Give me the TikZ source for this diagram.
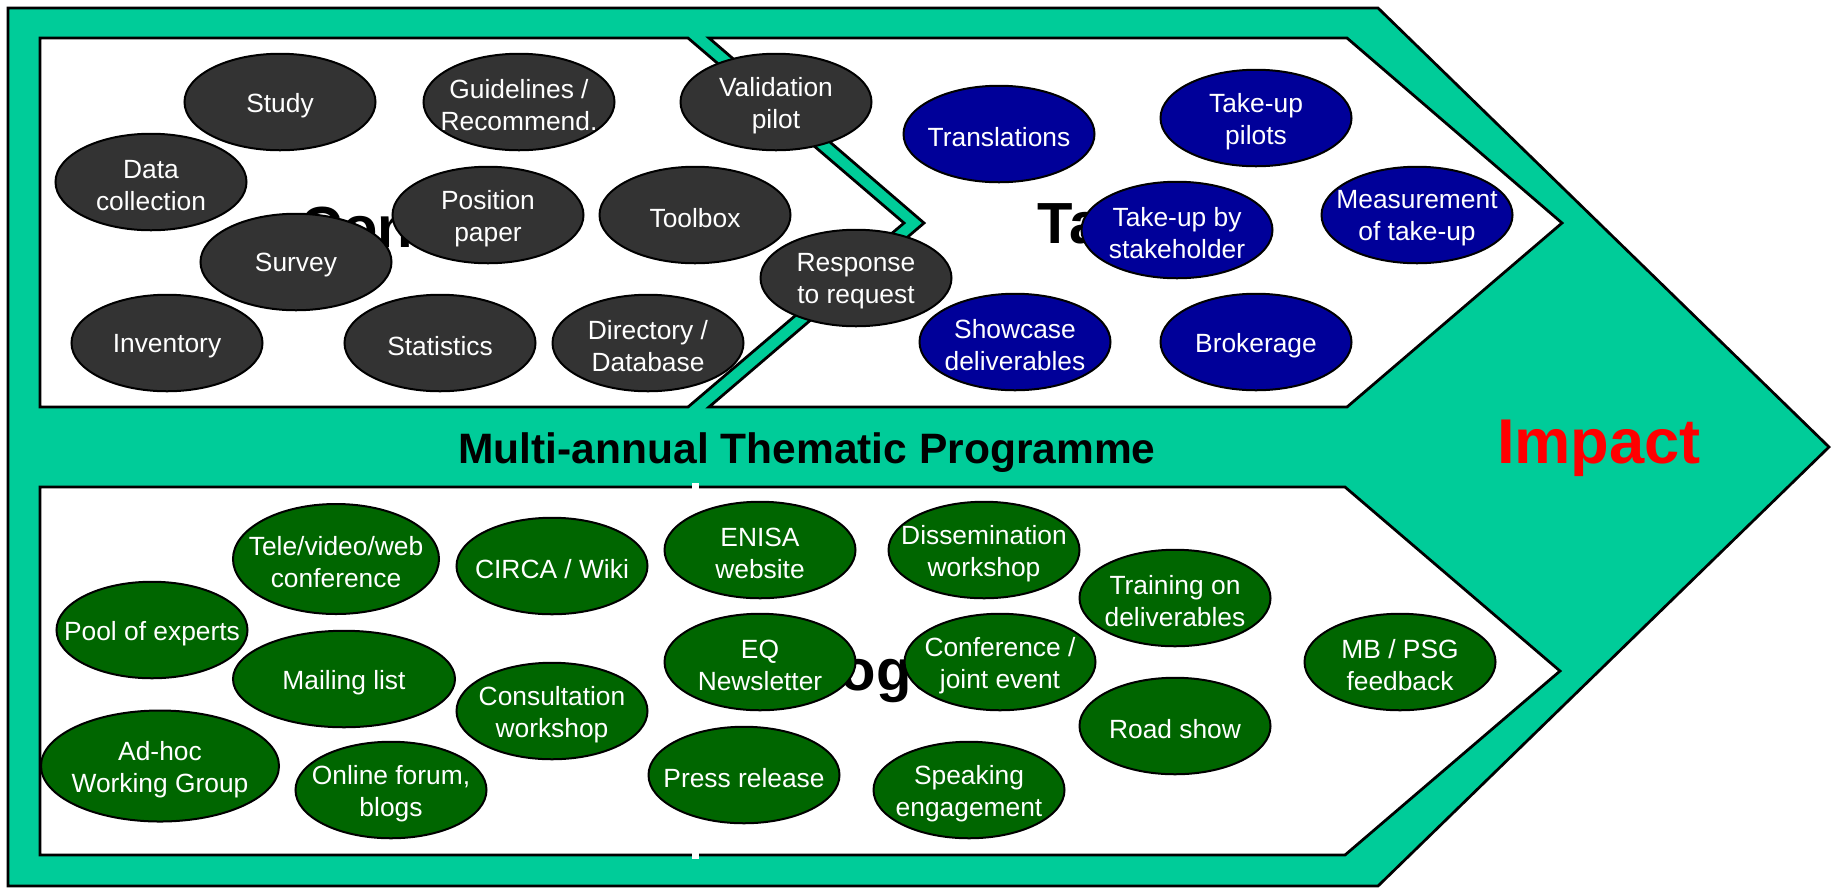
\documentclass[tikz,border=0pt]{standalone}
\usepackage{fontspec}
\setmainfont{Liberation Sans}
\usepackage{xcolor}
\usepackage{tikz}
\usetikzlibrary{shapes.geometric}

\definecolor{mtpteal}{RGB}{0,204,153}
\definecolor{contentgrey}{RGB}{51,51,51}
\definecolor{takeupblue}{RGB}{0,0,153}
\definecolor{dialoguegreen}{RGB}{0,102,0}

\tikzset{
  blobtext/.style={text=white, align=center, inner sep=0pt, yshift=-0.7mm, font=\fontsize{15}{18.2}\selectfont},
  blob/.style={ellipse, draw=black, line width=0.4mm, inner sep=0pt, minimum width=38.2mm, minimum height=19.3mm, label={[blobtext]center:#1}},
  contentblob/.style={blob={#1}, fill=contentgrey},
  takeupblob/.style={blob={#1}, fill=takeupblue},
  dialogueblob/.style={blob={#1}, fill=dialoguegreen},
  chevron/.style={draw=black, line width=0.55mm, line join=miter},
  bigword/.style={font=\fontsize{33}{38}\selectfont\bfseries, anchor=base}
}

\begin{document}
\begin{tikzpicture}[x=0.2mm, y=-0.2mm]
          \useasboundingbox (0,0) rectangle (1831,891);
          \draw[chevron, fill=mtpteal] (8,8) -- (1378,8) -- (1829,447) -- (1378,886) -- (8,886) -- cycle;
          \draw[chevron, fill=white] (40,38) -- (688,38) -- (904,223) -- (688,407) -- (40,407) -- cycle;
          \draw[chevron, fill=white] (709,38) -- (1347,38) -- (1562,223) -- (1347,407) -- (709,407) -- (924,223) -- cycle;
          \draw[chevron, fill=white] (40,487) -- (1345,487) -- (1560,671) -- (1345,855) -- (40,855) -- cycle;
          \fill[white] (692,483) rectangle (699,491);
          \fill[white] (692,851) rectangle (699,859);
          \node[bigword] (content) at (410,247) {Content};
          \node[bigword] (takeup) at (1147,243) {Take-up};
          \node[bigword] (dialogue) at (857,690) {Dialogue};
          \node[font=\fontsize{24.2}{29}\selectfont\bfseries, anchor=base] (mtp) at (807,463) {Multi-annual Thematic Programme};
          \node[font=\fontsize{36}{42}\selectfont\bfseries, text=red, anchor=base] (impact) at (1599,463) {Impact};

          \node[contentblob=Study] (study) at (280,102) {};
          \node[contentblob={Guidelines /\\Recommend.}] (guide) at (519,102) {};
          \node[contentblob={Validation\\pilot}] (valid) at (776,102) {};
          \node[contentblob={Data\\collection}] (datacoll) at (151,182) {};
          \node[contentblob=Survey] (survey) at (296,262) {};
          \node[contentblob={Position\\paper}] (position) at (488,215) {};
          \node[contentblob=Toolbox] (toolbox) at (695,215) {};
          \node[contentblob={Response\\to request}] (response) at (856,278) {};
          \node[contentblob=Inventory] (inventory) at (167,343) {};
          \node[contentblob=Statistics] (statistics) at (440,343) {};
          \node[contentblob={Directory /\\Database}] (directory) at (648,343) {};

          \node[takeupblob=Translations] (translations) at (999,134) {};
          \node[takeupblob={Take-up\\pilots}] (pilots) at (1256,118) {};
          \node[takeupblob={Take-up by\\stakeholder}] (stakeholder) at (1177,230) {};
          \node[takeupblob={Measurement\\of take-up}] (measurement) at (1417,215) {};
          \node[takeupblob={Showcase\\deliverables}] (showcase) at (1015,342) {};
          \node[takeupblob=Brokerage] (brokerage) at (1256,342) {};

          \node[dialogueblob={Tele/video/web\\conference}, minimum width=41.2mm, minimum height=22mm] (tele) at (336,559) {};
          \node[dialogueblob={CIRCA / Wiki}] (circa) at (552,566) {};
          \node[dialogueblob={ENISA\\website}] (enisa) at (760,550) {};
          \node[dialogueblob={Dissemination\\workshop}] (dissem) at (984,550) {};
          \node[dialogueblob={Pool of experts}] (pool) at (152,630) {};
          \node[dialogueblob={Mailing list}, minimum width=44.4mm] (mailing) at (344,679) {};
          \node[dialogueblob={Consultation\\workshop}] (consult) at (552,711) {};
          \node[dialogueblob={EQ\\Newsletter}] (eq) at (760,662) {};
          \node[dialogueblob={Conference /\\joint event}] (confer) at (1000,662) {};
          \node[dialogueblob={Training on\\deliverables}] (training) at (1175,598) {};
          \node[dialogueblob={Road show}] (roadshow) at (1175,726) {};
          \node[dialogueblob={MB / PSG\\feedback}] (mbpsg) at (1400,662) {};
          \node[dialogueblob={Ad-hoc\\Working Group}, minimum width=47.6mm, minimum height=22.2mm] (adhoc) at (160,766) {};
          \node[dialogueblob={Online forum,\\blogs}] (online) at (391,790) {};
          \node[dialogueblob={Press release}] (press) at (744,775) {};
          \node[dialogueblob={Speaking\\engagement}] (speaking) at (969,790) {};
        \end{tikzpicture}
\end{document}
